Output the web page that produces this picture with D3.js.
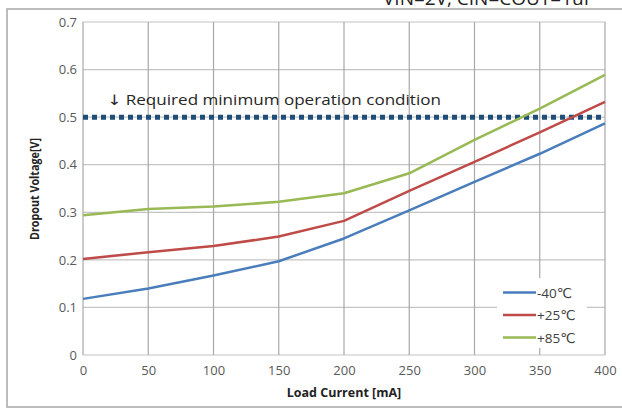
<!DOCTYPE html>
<html>
<head>
<meta charset="utf-8">
<script src="https://cdn.jsdelivr.net/npm/d3@7"></script>
<style>
  body { margin: 0; background: #fff; }
  svg { display: block; }
</style>
</head>
<body>
<svg id="chart" width="622" height="409"></svg>
<script>
// Load current steps [mA]
const loadCurrent = [0, 50, 100, 150, 200, 250, 300, 350, 400];
// Dropout voltage [V] per ambient temperature
const vMinus40 = [0.118, 0.140, 0.167, 0.197, 0.245, 0.304, 0.364, 0.423, 0.487];
const vPlus25  = [0.202, 0.216, 0.229, 0.249, 0.282, 0.345, 0.406, 0.468, 0.532];
const vPlus85  = [0.294, 0.307, 0.312, 0.322, 0.340, 0.382, 0.452, 0.518, 0.589];
const seriesNames = ["-40℃", "+25℃", "+85℃"];
const seriesColors = ["#4a7ebb", "#be4b48", "#98b954"];
const xTicks = [0, 50, 100, 150, 200, 250, 300, 350, 400];
const yTicks = [0, 0.1, 0.2, 0.3, 0.4, 0.5, 0.6, 0.7];
const requiredLevel = 0.5;

const svg = d3.select("#chart");
const fontFamily = "'Open Sans', 'DejaVu Sans', sans-serif";

const x = d3.scaleLinear().domain([0, 400]).range([83, 605]);
const y = d3.scaleLinear().domain([0, 0.7]).range([355, 22]);

// outer frame
svg.append("rect")
  .attr("x", 7).attr("y", 9).attr("width", 640).attr("height", 398)
  .attr("fill", "none").attr("stroke", "#a6a6a6").attr("stroke-width", 1.5);

// clipped heading above the frame
svg.append("text")
  .attr("x", 383).attr("y", 5)
  .attr("font-family", fontFamily).attr("font-size", 19)
  .attr("fill", "#222")
  .text("VIN=2V, CIN=COUT=1uF");

// grid
const grid = svg.append("g");
grid.selectAll(".h").data(yTicks).join("line")
  .attr("x1", x(0)).attr("x2", x(400))
  .attr("y1", d => y(d)).attr("y2", d => y(d))
  .attr("stroke", "#c4c4c4").attr("stroke-width", 1.2);
grid.selectAll(".v").data(xTicks).join("line")
  .attr("x1", d => x(d)).attr("x2", d => x(d))
  .attr("y1", y(0.7)).attr("y2", y(0))
  .attr("stroke", "#a8a8a8").attr("stroke-width", 1.2);

// axes labels
const yAxis = d3.axisLeft(y).tickValues(yTicks).tickFormat(d3.format("")).tickSize(0).tickPadding(6);
const gy = svg.append("g").attr("transform", `translate(${x(0)},0)`).call(yAxis);
gy.select(".domain").remove();
gy.selectAll("text").attr("font-family", fontFamily).attr("font-size", 13).attr("fill", "#595959");

const xAxis = d3.axisBottom(x).tickValues(xTicks).tickSize(0).tickPadding(11);
const gx = svg.append("g").attr("transform", `translate(0,${y(0)})`).call(xAxis);
gx.select(".domain").remove();
gx.selectAll("text").attr("font-family", fontFamily).attr("font-size", 13).attr("fill", "#595959");

// axis titles
svg.append("text")
  .attr("x", 344).attr("y", 397).attr("text-anchor", "middle")
  .attr("font-family", fontFamily).attr("font-weight", "bold").attr("font-size", 12.5)
  .attr("fill", "#222").text("Load Current [mA]");
svg.append("text")
  .attr("transform", "translate(39,189) rotate(-90)").attr("text-anchor", "middle")
  .attr("font-family", fontFamily).attr("font-weight", "bold").attr("font-size", 12)
  .attr("textLength", 102).attr("lengthAdjust", "spacingAndGlyphs")
  .attr("fill", "#222").text("Dropout Voltage[V]");

// required operation level
svg.append("line")
  .attr("x1", x(0)).attr("x2", x(400))
  .attr("y1", y(requiredLevel)).attr("y2", y(requiredLevel))
  .attr("stroke", "#1f4e79").attr("stroke-width", 5)
  .attr("stroke-dasharray", "5,4");
svg.append("text")
  .attr("x", 107).attr("y", 105)
  .attr("font-family", fontFamily).attr("font-size", 14.5)
  .attr("textLength", 334).attr("lengthAdjust", "spacingAndGlyphs")
  .attr("fill", "#262626").text("↓ Required minimum operation condition");

// series lines
const allSeries = [vMinus40, vPlus25, vPlus85];
const line = d3.line().x((d, i) => x(loadCurrent[i])).y(d => y(d));
svg.append("g").selectAll("path").data(allSeries).join("path")
  .attr("d", line)
  .attr("fill", "none")
  .attr("stroke", (d, i) => seriesColors[i])
  .attr("stroke-width", 2.5)
  .attr("stroke-linejoin", "round");

// legend
const legend = svg.append("g");
legend.append("rect")
  .attr("x", 497).attr("y", 278).attr("width", 90).attr("height", 70)
  .attr("fill", "#fff");
const rows = legend.selectAll("g").data(seriesNames).join("g")
  .attr("transform", (d, i) => `translate(503,${292.5 + i * 22.5})`);
rows.append("line")
  .attr("x1", 0).attr("x2", 33)
  .attr("stroke", (d, i) => seriesColors[i]).attr("stroke-width", 2.5);
rows.append("text")
  .attr("x", 34).attr("y", 5)
  .attr("font-family", fontFamily).attr("font-size", 13.5)
  .attr("fill", "#404040").text(d => d);
</script>
</body>
</html>
